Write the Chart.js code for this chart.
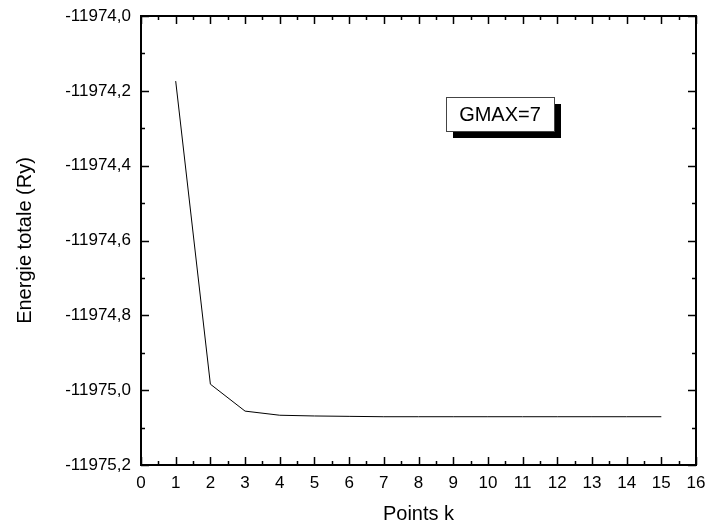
<!DOCTYPE html>
<html>
<head>
<meta charset="utf-8">
<title>Energie totale vs points k</title>
<script src="https://cdn.jsdelivr.net/npm/chart.js@4.4.1/dist/chart.umd.min.js"></script>
<style>
  html, body { margin: 0; padding: 0; background: #fff; }
  #wrap { width: 708px; height: 529px; }
</style>
</head>
<body>
<div id="wrap"><canvas id="myChart" width="708" height="529"></canvas></div>
<script>
// values
const pointsK = [1, 2, 3, 4, 5, 6, 7, 8, 9, 10, 11, 12, 13, 14, 15];
const energie = [-11974.174, -11974.984, -11975.056, -11975.067, -11975.069, -11975.070, -11975.071,
  -11975.071, -11975.071, -11975.071, -11975.071, -11975.071, -11975.071, -11975.071, -11975.071];
const xRange = [0, 16];
const yRange = [-11975.2, -11974.0];
const boxText = 'GMAX=7';
const boxAnchor = [8.8, -11974.216]; // top-left corner of the label box, in data units

const FONT = '"Liberation Sans", Arial, sans-serif';

// box around the plot with inward ticks on all four sides
const framePlugin = {
  id: 'frame',
  afterDatasetsDraw(chart) {
    const ctx = chart.ctx;
    const a = chart.chartArea;
    const xs = chart.scales.x, ys = chart.scales.y;
    ctx.save();
    ctx.strokeStyle = '#000';

    ctx.lineWidth = 1.5;
    ctx.beginPath();
    xs.ticks.forEach(function(t, i) {
      const px = Math.round(xs.getPixelForValue(t.value)) + 0.5;
      ctx.moveTo(px, a.bottom); ctx.lineTo(px, a.bottom - 8);
      ctx.moveTo(px, a.top); ctx.lineTo(px, a.top + 8);
      if (i < xs.ticks.length - 1) {
        const m = Math.round(xs.getPixelForValue((t.value + xs.ticks[i + 1].value) / 2)) + 0.5;
        ctx.moveTo(m, a.bottom); ctx.lineTo(m, a.bottom - 4);
        ctx.moveTo(m, a.top); ctx.lineTo(m, a.top + 4);
      }
    });
    ys.ticks.forEach(function(t, i) {
      const py = Math.round(ys.getPixelForValue(t.value)) + 0.5;
      ctx.moveTo(a.left, py); ctx.lineTo(a.left + 8, py);
      ctx.moveTo(a.right, py); ctx.lineTo(a.right - 8, py);
      if (i < ys.ticks.length - 1) {
        const m = Math.round(ys.getPixelForValue((t.value + ys.ticks[i + 1].value) / 2)) + 0.5;
        ctx.moveTo(a.left, m); ctx.lineTo(a.left + 4, m);
        ctx.moveTo(a.right, m); ctx.lineTo(a.right - 4, m);
      }
    });
    ctx.stroke();

    ctx.lineWidth = 2;
    ctx.strokeRect(a.left, a.top, a.right - a.left, a.bottom - a.top);

    // GMAX label box with drop shadow
    const bx = Math.round(xs.getPixelForValue(boxAnchor[0]));
    const by = Math.round(ys.getPixelForValue(boxAnchor[1]));
    const bw = 108, bh = 34;
    ctx.fillStyle = '#000';
    ctx.fillRect(bx + 7, by + 7, bw, bh);
    ctx.fillStyle = '#fff';
    ctx.fillRect(bx, by, bw, bh);
    ctx.lineWidth = 1;
    ctx.strokeStyle = '#444';
    ctx.strokeRect(bx + 0.5, by + 0.5, bw, bh);
    ctx.fillStyle = '#000';
    ctx.font = '20px ' + FONT;
    ctx.textAlign = 'center';
    ctx.textBaseline = 'middle';
    ctx.fillText(boxText, bx + bw / 2, by + bh / 2 + 1);
    ctx.restore();
  }
};

const data = {
  labels: pointsK,
  datasets: [{
    label: 'Energie',
    data: pointsK.map(function(k, i) { return { x: k, y: energie[i] }; }),
    borderColor: '#000',
    borderWidth: 1,
    pointRadius: 0,
    fill: false,
    tension: 0
  }]
};

const config = {
  type: 'line',
  data: data,
  options: {
    responsive: false,
    animation: false,
    devicePixelRatio: 1,
    layout: { padding: { top: 16, right: 12, left: 0, bottom: 0 } },
    plugins: { legend: { display: false }, tooltip: { enabled: false } },
    scales: {
      x: {
        type: 'linear',
        min: xRange[0],
        max: xRange[1],
        grid: { display: false, drawTicks: false },
        border: { display: false },
        ticks: {
          stepSize: 1,
          autoSkip: false,
          maxRotation: 0,
          padding: 8,
          color: '#000',
          font: { family: FONT, size: 17 },
          callback: function(v) { return String(v); }
        },
        title: {
          display: true,
          text: 'Points k',
          color: '#000',
          font: { family: FONT, size: 20 },
          padding: { top: 0, bottom: 3 }
        },
        afterFit: function(scale) {
          scale.height = 64;
          scale.paddingLeft = 0;
          scale.paddingRight = 0;
        }
      },
      y: {
        min: yRange[0],
        max: yRange[1],
        grid: { display: false, drawTicks: false },
        border: { display: false },
        ticks: {
          stepSize: 0.2,
          padding: 10,
          color: '#000',
          font: { family: FONT, size: 17 },
          callback: function(v) { return Number(v).toFixed(1).replace('.', ','); }
        },
        title: {
          display: true,
          text: 'Energie totale (Ry)',
          color: '#000',
          font: { family: FONT, size: 20 },
          padding: { top: 13, bottom: 0 }
        },
        afterFit: function(scale) {
          scale.width = 141;
          scale.paddingTop = 0;
          scale.paddingBottom = 0;
        }
      }
    }
  },
  plugins: [framePlugin]
};

var myChart = new Chart(document.getElementById('myChart'), config);
</script>
</body>
</html>
